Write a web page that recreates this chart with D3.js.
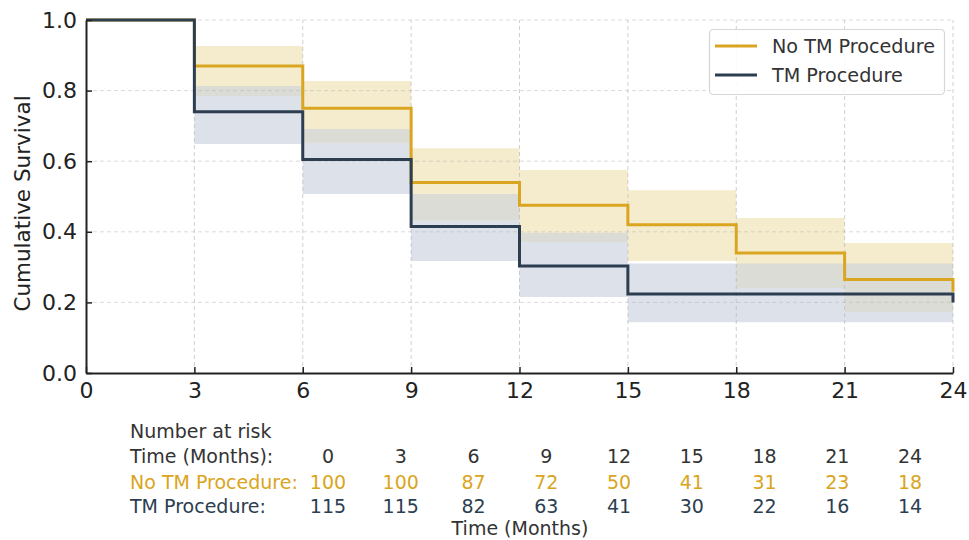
<!DOCTYPE html>
<html>
<head>
<meta charset="utf-8">
<script src="https://cdn.jsdelivr.net/npm/d3@7/dist/d3.min.js"></script>
<style>
  html, body { margin: 0; padding: 0; background: #fff; }
  svg { display: block; font-family: "DejaVu Sans", sans-serif; }
</style>
</head>
<body>
<svg id="chart" width="969" height="540"></svg>
<script>
// Kaplan–Meier step estimates, evaluated at each 3‑month mark
const times = [0, 3, 6, 9, 12, 15, 18, 21, 24];
const seriesNames = ["No TM Procedure", "TM Procedure"];

const survNoTM  = [1.0, 0.87, 0.75, 0.54, 0.475, 0.42, 0.34, 0.265, 0.23];
const lowerNoTM = [1.0, 0.785, 0.652, 0.433, 0.371, 0.317, 0.241, 0.173, 0.173];
const upperNoTM = [1.0, 0.926, 0.827, 0.637, 0.575, 0.518, 0.439, 0.368, 0.368];

const survTM    = [1.0, 0.74, 0.605, 0.415, 0.303, 0.224, 0.224, 0.224, 0.20];
const lowerTM   = [1.0, 0.649, 0.507, 0.317, 0.215, 0.144, 0.144, 0.144, 0.144];
const upperTM   = [1.0, 0.813, 0.691, 0.507, 0.397, 0.31, 0.31, 0.31, 0.31];

// Number-at-risk table
const riskTimes = [0, 3, 6, 9, 12, 15, 18, 21, 24];
const riskNoTM  = [100, 100, 87, 72, 50, 41, 31, 23, 18];
const riskTM    = [115, 115, 82, 63, 41, 30, 22, 16, 14];

const xTicks = [0, 3, 6, 9, 12, 15, 18, 21, 24];
const yTicks = [0.0, 0.2, 0.4, 0.6, 0.8, 1.0];

const colNoTM = "#DAA520";
const colTM = "#2C3E50";
const bandNoTM = "#f5ecce";
const bandTM = "#dde1ea";
const bandBoth = "#dcdcd6";

const svg = d3.select("#chart");
const x = d3.scaleLinear().domain([0, 24]).range([86, 953]);
const y = d3.scaleLinear().domain([0, 1]).range([373, 20]);

const band = (lo, hi) => d3.area()
  .curve(d3.curveStepAfter)
  .x((d, i) => x(times[i]))
  .y0((d, i) => y(lo[i]))
  .y1((d, i) => y(Math.max(hi[i], lo[i])))(times);

// confidence bands, with the shared region of both intervals shaded neutral
const overlapLo = times.map((t, i) => Math.max(lowerNoTM[i], lowerTM[i]));
const overlapHi = times.map((t, i) => Math.min(upperNoTM[i], upperTM[i]));
svg.append("path").attr("d", band(lowerTM, upperTM)).attr("fill", bandTM);
svg.append("path").attr("d", band(lowerNoTM, upperNoTM)).attr("fill", bandNoTM);
svg.append("path").attr("d", band(overlapLo, overlapHi)).attr("fill", bandBoth);

// grid
const grid = svg.append("g");
grid.selectAll("line.v").data(xTicks.slice(1)).join("line")
  .attr("x1", d => x(d)).attr("x2", d => x(d))
  .attr("y1", y(0)).attr("y2", y(1))
  .attr("stroke", "#b0b0b0").attr("stroke-opacity", 0.6).attr("stroke-width", 1).attr("stroke-dasharray", "4,3");
grid.selectAll("line.h").data(yTicks.slice(1)).join("line")
  .attr("x1", x(0)).attr("x2", x(24))
  .attr("y1", d => y(d)).attr("y2", d => y(d))
  .attr("stroke", "#b0b0b0").attr("stroke-opacity", 0.45).attr("stroke-width", 1).attr("stroke-dasharray", "4,3");

const line = vals => d3.line()
  .curve(d3.curveStepAfter)
  .x((d, i) => x(times[i]))
  .y((d, i) => y(vals[i]))(times);

// survival curves (the final drop happens at t=24)
const stepPath = vals => {
  const base = line(vals.slice(0, 8).concat([vals[7]]));
  return base + "L" + x(24) + "," + y(vals[8]);
};
svg.append("path").attr("d", stepPath(survNoTM))
  .attr("fill", "none").attr("stroke", colNoTM).attr("stroke-width", 3);
svg.append("path").attr("d", stepPath(survTM))
  .attr("fill", "none").attr("stroke", colTM).attr("stroke-width", 3);

// axes
const xAxis = svg.append("g").attr("transform", `translate(0,${y(0)})`)
  .call(d3.axisBottom(x).tickValues(xTicks).tickFormat(d3.format("d")).tickSizeInner(-6).tickSizeOuter(0).tickPadding(10));
const yAxis = svg.append("g").attr("transform", `translate(${x(0)},0)`)
  .call(d3.axisLeft(y).tickValues(yTicks).tickFormat(d3.format(".1f")).tickSizeInner(-6).tickSizeOuter(0).tickPadding(9));
[xAxis, yAxis].forEach(g => {
  g.select(".domain").attr("stroke", "#222").attr("stroke-width", 2);
  g.selectAll(".tick line").attr("stroke", "#222").attr("stroke-width", 1.5);
  g.selectAll(".tick text").attr("fill", "#222").style("font-size", "22px")
    .style("font-family", "DejaVu Sans, sans-serif");
});
xAxis.selectAll(".tick text").attr("dy", "0.68em");

// y label
svg.append("text")
  .attr("transform", `translate(30,${y(0.5) + 7}) rotate(-90)`)
  .attr("text-anchor", "middle")
  .attr("fill", "#222").style("font-size", "21.5px")
  .text("Cumulative Survival");

// legend
const lg = svg.append("g");
lg.append("rect").attr("x", 709.5).attr("y", 29.5).attr("width", 235).attr("height", 65)
  .attr("rx", 4).attr("fill", "#fff").attr("fill-opacity", 0.85)
  .attr("stroke", "#d6d6d6").attr("stroke-width", 1.2);
[[colNoTM, seriesNames[0], 46], [colTM, seriesNames[1], 75]].forEach(([c, t, yy]) => {
  lg.append("line").attr("x1", 715).attr("x2", 757).attr("y1", yy).attr("y2", yy)
    .attr("stroke", c).attr("stroke-width", 3);
  lg.append("text").attr("x", 772).attr("y", yy + 7).attr("fill", "#333")
    .style("font-size", "19.2px").text(t);
});

// number at risk table
const tx = d3.scalePoint().domain(riskTimes).range([328, 910]);
const tbl = svg.append("g").style("font-size", "19px");
tbl.append("text").attr("x", 130).attr("y", 438).attr("fill", "#333").text("Number at risk");
const rows = [
  ["Time (Months):", riskTimes, "#333", 463],
  ["No TM Procedure:", riskNoTM, colNoTM, 489],
  ["TM Procedure:", riskTM, colTM, 513]
];
rows.forEach(([label, vals, c, yy]) => {
  tbl.append("text").attr("x", 130).attr("y", yy).attr("fill", c).text(label);
  tbl.selectAll(null).data(vals).join("text")
    .attr("x", (d, i) => tx(riskTimes[i])).attr("y", yy)
    .attr("text-anchor", "middle").attr("fill", c).text(d => d);
});
svg.append("text").attr("x", 520).attr("y", 535).attr("text-anchor", "middle")
  .attr("fill", "#333").style("font-size", "19px").text("Time (Months)");
</script>
</body>
</html>
